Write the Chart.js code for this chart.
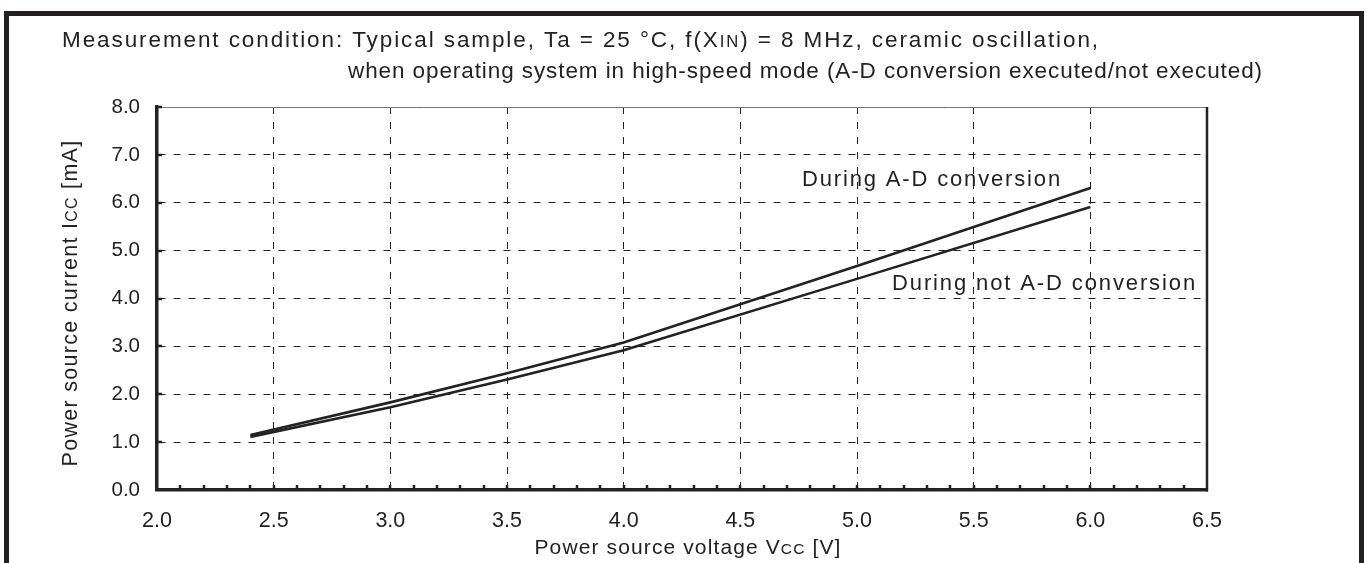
<!DOCTYPE html>
<html>
<head>
<meta charset="utf-8">
<title>Power source current vs. voltage</title>
<script src="https://cdn.jsdelivr.net/npm/chart.js@4.4.1/dist/chart.umd.min.js"></script>
<style>
  html, body { margin: 0; padding: 0; background: #ffffff; overflow: hidden; }
  #wrap { position: relative; width: 1367px; height: 563px; }
  #frame {
    position: absolute; left: 4px; top: 11px; width: 1350px; height: 600px;
    border: 5px solid #231f20; background: #ffffff;
  }
  #c { position: absolute; left: 0; top: 0; }
</style>
</head>
<body>
<div id="wrap">
  <div id="frame"></div>
  <canvas id="c" width="1367" height="563"></canvas>
</div>
<script>
// Supply voltage Vcc [V] at which the current was measured
const voltage = [2.4, 3.0, 3.5, 4.0, 5.0, 6.0];
// Supply current Icc [mA] while A-D conversion runs
const iccConversion = [1.15, 1.83, 2.44, 3.08, 4.68, 6.31];
// Supply current Icc [mA] with A-D conversion idle
const iccNoConversion = [1.11, 1.73, 2.31, 2.92, 4.41, 5.91];

// Axis tick values
const xTickValues = [2.0, 2.5, 3.0, 3.5, 4.0, 4.5, 5.0, 5.5, 6.0, 6.5];
const yTickValues = [0, 1, 2, 3, 4, 5, 6, 7, 8];

// Curve labels
const curveLabels = ['During A-D conversion', 'During not A-D conversion'];

const FONT = '"Liberation Sans", Arial, Helvetica, sans-serif';
const INK = '#222222';

function toPoints(xs, ys) { return xs.map((x, i) => ({ x: x, y: ys[i] })); }

// Draws a row of text runs; runs flagged as small are drawn in reduced caps.
// When a width is given the letter spacing is stretched to fill it.
function drawRuns(ctx, runs, x, y, size, width, align) {
  const fontFor = small => (small ? size * 0.74 : size) + 'px ' + FONT;
  ctx.letterSpacing = '0px';
  let natural = 0, chars = 0;
  runs.forEach(([t, small]) => { ctx.font = fontFor(small); natural += ctx.measureText(t).width; chars += t.length; });
  const spacing = width ? Math.max(0, (width - natural) / Math.max(1, chars)) : 0;
  ctx.letterSpacing = spacing + 'px';
  let total = 0;
  runs.forEach(([t, small]) => { ctx.font = fontFor(small); total += ctx.measureText(t).width; });
  let cx = align === 'center' ? x - total / 2 : x;
  ctx.textAlign = 'left';
  runs.forEach(([t, small]) => {
    ctx.font = fontFor(small);
    ctx.fillText(t, cx, y);
    cx += ctx.measureText(t).width;
  });
  ctx.letterSpacing = '0px';
}

const decorations = {
  id: 'decorations',
  afterDraw(chart) {
    const { ctx, chartArea: a, scales: { x, y } } = chart;
    ctx.save();
    ctx.fillStyle = INK;
    ctx.strokeStyle = INK;
    ctx.textBaseline = 'alphabetic';

    // top edge: thin solid rule under the dashed 8.0 grid line
    ctx.lineWidth = 1;
    ctx.strokeStyle = '#777';
    ctx.beginPath(); ctx.moveTo(a.left, a.top + 0.5); ctx.lineTo(a.right, a.top + 0.5); ctx.stroke();

    // right edge
    ctx.strokeStyle = INK;
    ctx.lineWidth = 2.5;
    ctx.beginPath(); ctx.moveTo(a.right, a.top); ctx.lineTo(a.right, a.bottom + 1.5); ctx.stroke();

    // minor ticks every 0.1 V along the bottom axis, pointing inward
    ctx.lineWidth = 2.5;
    for (let k = 1; k < 45; k++) {
      const px = Math.round(x.getPixelForValue(2 + k * 0.1));
      ctx.beginPath(); ctx.moveTo(px, a.bottom); ctx.lineTo(px, a.bottom - 5); ctx.stroke();
    }
    // ticks at each 1 mA along the left axis, pointing inward
    yTickValues.forEach(v => {
      if (v === 0) return;
      const py = Math.round(y.getPixelForValue(v));
      ctx.beginPath(); ctx.moveTo(a.left, py); ctx.lineTo(a.left + 5, py); ctx.stroke();
    });

    // measurement condition
    drawRuns(ctx, [['Measurement condition: Typical sample, Ta = 25 \u00B0C, f(X', false], ['IN', true],
                   [') = 8 MHz, ceramic oscillation,', false]], 62, 47, 22.5, 1038, 'left');
    drawRuns(ctx, [['when operating system in high-speed mode (A-D conversion executed/not executed)', false]],
             348, 78, 22.5, 915, 'left');

    // axis titles
    drawRuns(ctx, [['Power source voltage V', false], ['CC', true], [' [V]', false]],
             688, 554, 21, 307, 'center');
    ctx.save();
    ctx.translate(77, 303);
    ctx.rotate(-Math.PI / 2);
    drawRuns(ctx, [['Power source current I', false], ['CC', true], [' [mA]', false]],
             0, 0, 21.5, 327, 'center');
    ctx.restore();

    // curve labels
    drawRuns(ctx, [[curveLabels[0], false]], 802, 186, 22, 260, 'left');
    drawRuns(ctx, [[curveLabels[1], false]], 892, 290, 22, 305, 'left');

    ctx.restore();
  }
};

new Chart(document.getElementById('c'), {
  type: 'scatter',
  data: {
    datasets: [
      { label: curveLabels[0], data: toPoints(voltage, iccConversion), showLine: true,
        borderColor: INK, borderWidth: 2.6, pointRadius: 0, tension: 0, fill: false },
      { label: curveLabels[1], data: toPoints(voltage, iccNoConversion), showLine: true,
        borderColor: INK, borderWidth: 2.6, pointRadius: 0, tension: 0, fill: false }
    ]
  },
  options: {
    responsive: false,
    animation: false,
    events: [],
    layout: { padding: { left: 0, top: 107, right: 160, bottom: 0 } },
    plugins: { legend: { display: false }, tooltip: { enabled: false }, title: { display: false } },
    scales: {
      x: {
        type: 'linear', min: 2.0, max: 6.5,
        afterBuildTicks: s => { s.ticks = xTickValues.map(v => ({ value: v })); },
        afterFit: s => { s.height = 73; },
        grid: { color: INK, lineWidth: 1, drawTicks: false },
        border: { display: true, color: INK, width: 3.5, dash: [7, 8] },
        ticks: { color: INK, padding: 18, font: { family: FONT, size: 21.5 },
                 callback: v => Number(v).toFixed(1), maxRotation: 0, autoSkip: false }
      },
      y: {
        type: 'linear', min: 0, max: 8,
        afterBuildTicks: s => { s.ticks = yTickValues.map(v => ({ value: v })); },
        afterFit: s => { s.width = 157; },
        grid: { color: INK, lineWidth: 1, drawTicks: false },
        border: { display: true, color: INK, width: 3.5, dash: [7, 8] },
        ticks: { color: INK, padding: 17, font: { family: FONT, size: 20.5 },
                 callback: v => Number(v).toFixed(1), autoSkip: false }
      }
    }
  },
  plugins: [decorations]
});
</script>
</body>
</html>
